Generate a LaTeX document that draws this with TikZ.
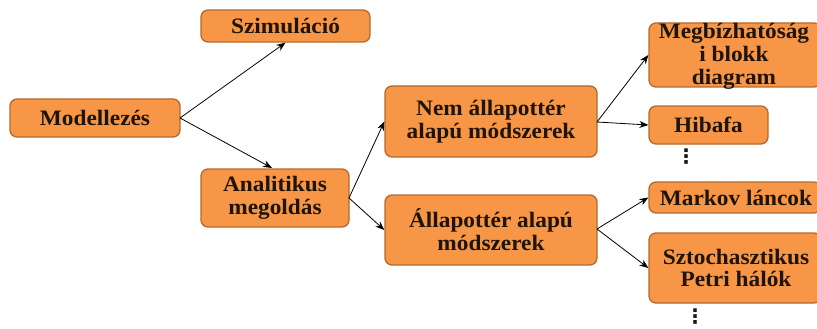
\documentclass[tikz,border=0pt]{standalone}
\usepackage{fontspec}
\setmainfont{Liberation Serif}[FakeStretch=1.06]
\newfontfamily\dotsfont{DejaVu Sans}
\usetikzlibrary{arrows.meta}
\definecolor{boxfill}{HTML}{F79646}
\definecolor{boxline}{HTML}{B5682F}
\definecolor{txtcol}{HTML}{1E1408}
\tikzset{
  box/.style={draw=boxline, line width=1.3pt, fill=boxfill, rounded corners=7pt, inner sep=0pt},
  txt/.style={text=txtcol, font=\fontsize{22}{22.8}\selectfont\bfseries, align=center, inner sep=0pt},
  conn/.style={-{Stealth[length=9pt,width=7pt]}, line width=0.8pt, black},
  dotsnode/.style={inner sep=0pt, font=\dotsfont\fontsize{20}{20}\selectfont\bfseries, text=txtcol}
}
\begin{document}
\begin{tikzpicture}[x=1pt,y=-1pt]
\useasboundingbox (0,0) rectangle (817,329);
% boxes
\node[box, minimum width=170, minimum height=38] (model) at (95,118) {};
\node[txt] at (model) {Modellezés};
\node[box, minimum width=169, minimum height=32] (szim) at (285.5,26) {};
\node[txt] at (szim) {Szimuláció};
\node[box, minimum width=148, minimum height=58] (anal) at (275,198) {};
\node[txt] at (anal) {Analitikus\\megoldás};
\node[box, minimum width=212, minimum height=71] (nem) at (491,121.5) {};
\node[txt] at (nem) {Nem állapottér\\alapú módszerek};
\node[box, minimum width=212, minimum height=70] (all) at (491,230) {};
\node[txt] at (all) {Állapottér alapú\\módszerek};
\node[box, minimum width=172, minimum height=64] (megb) at (735,55) {};
\node[txt] at (734,56) {Megbízhatóság\\i blokk\\diagram};
\node[box, minimum width=119, minimum height=38] (hiba) at (708.5,125) {};
\node[txt] at (hiba) {Hibafa};
\node[box, minimum width=172, minimum height=31] (mark) at (735,197.5) {};
\node[txt] at (736,198) {Markov láncok};
\node[box, minimum width=172, minimum height=70] (szto) at (735,268) {};
\node[txt] at (736,268) {Sztochasztikus\\Petri hálók};
% dots
\node[dotsnode] (d1) at (686,157) {⋮};
\node[dotsnode] (d2) at (695,317) {⋮};
% connectors
\coordinate (mR) at (180,118);
\draw[conn] (mR) -- (szim.south);
\draw[conn] (mR) -- (272,168) coordinate (aT);
\coordinate (aR) at (349,198);
\draw[conn] (aR) -- (nem.west);
\draw[conn] (aR) -- (all.west);
\coordinate (nR) at (597,122);
\draw[conn] (nR) -- (megb.west);
\draw[conn] (nR) -- (hiba.west);
\coordinate (sR) at (597,229);
\draw[conn] (sR) -- (mark.west);
\draw[conn] (sR) -- (szto.west);
\end{tikzpicture}
\end{document}
